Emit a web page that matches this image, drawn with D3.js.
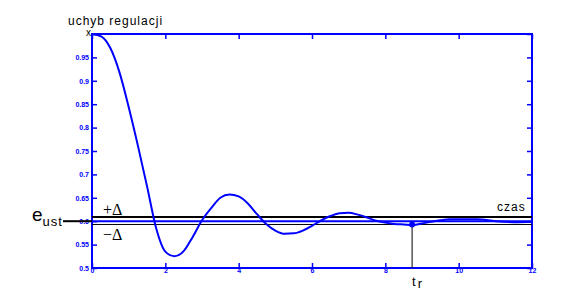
<!DOCTYPE html>
<html>
<head>
<meta charset="utf-8">
<script src="https://cdn.jsdelivr.net/npm/d3@7"></script>
<style>
  body { margin: 0; background: #fff; }
  svg { display: block; font-family: "Liberation Sans", Arial, sans-serif; }
  .tick text { fill: #0000ff; font-size: 7px; font-weight: bold; }
  .lbl { fill: #000; font-size: 12px; letter-spacing: 1px; }
  .sym { fill: #000; font-family: "Liberation Serif", "DejaVu Serif", serif; font-size: 16px; }
</style>
</head>
<body>
<svg id="chart"></svg>
<script>
// samples
const times = [0, 0.25, 0.5, 0.75, 1, 1.25, 1.5, 1.75, 2, 2.25, 2.5, 2.75, 3, 3.25, 3.5, 3.75,
  4, 4.25, 4.5, 4.75, 5, 5.25, 5.5, 5.75, 6, 6.25, 6.5, 6.75, 7, 7.25, 7.5, 7.75,
  8, 8.25, 8.5, 8.75, 9, 9.25, 9.5, 9.75, 10, 10.5, 11, 11.5, 12];
const errors = [1, 0.995, 0.97, 0.918, 0.844, 0.762, 0.675, 0.585, 0.535, 0.525, 0.536, 0.567,
  0.602, 0.628, 0.65, 0.657, 0.653, 0.638, 0.615, 0.594, 0.58, 0.573, 0.574, 0.58,
  0.59, 0.602, 0.611, 0.617, 0.618, 0.614, 0.608, 0.601, 0.597, 0.594, 0.593, 0.592,
  0.595, 0.599, 0.602, 0.604, 0.604, 0.604, 0.6, 0.598, 0.599];

const xTicks = [0, 2, 4, 6, 8, 10, 12];
const yTicks = [0.5, 0.55, 0.6, 0.65, 0.7, 0.75, 0.8, 0.85, 0.9, 0.95, 1];
const yTickLabels = ['0.5', '0.55', '0.6', '0.65', '0.7', '0.75', '0.8', '0.85', '0.9', '0.95', ''];

const eUst = 0.6, upper = 0.609, lower = 0.593;
const tr = 8.73;

const W = 579, H = 301;
const svg = d3.select('#chart').attr('width', W).attr('height', H);

const x = d3.scaleLinear().domain([0, 12]).range([92, 532]);
const y = d3.scaleLinear().domain([0.5, 1]).range([268, 34]);

const blue = '#0000ff';
const yFmt = d => yTickLabels[yTicks.indexOf(d)];

// axes, ticks pointing inward
function styleAxis(g) {
  g.select('.domain').remove();
  g.selectAll('.tick line').attr('stroke', blue).attr('stroke-width', 1.5);
}
svg.append('g').attr('transform', `translate(${x(0)},0)`)
  .call(d3.axisLeft(y).tickValues(yTicks).tickFormat(yFmt).tickSize(-5).tickPadding(3))
  .call(styleAxis).attr('font-family', null).attr('font-size', null);
svg.append('g').attr('transform', `translate(${x(12)},0)`)
  .call(d3.axisRight(y).tickValues(yTicks).tickFormat('').tickSize(-5))
  .call(styleAxis);
svg.append('g').attr('transform', `translate(0,${y(0.5)})`)
  .call(d3.axisBottom(x).tickValues(xTicks).tickFormat(d3.format('d')).tickSize(-5).tickPadding(0))
  .call(styleAxis).attr('font-family', null).attr('font-size', null);
svg.append('g').attr('transform', `translate(0,${y(1)})`)
  .call(d3.axisTop(x).tickValues(xTicks).tickFormat('').tickSize(-5))
  .call(styleAxis);

svg.append('rect')
  .attr('x', x(0)).attr('y', y(1))
  .attr('width', x(12) - x(0)).attr('height', y(0.5) - y(1))
  .attr('fill', 'none').attr('stroke', blue).attr('stroke-width', 2);

// tolerance band and steady value
svg.append('line').attr('x1', x(0)).attr('x2', x(12)).attr('y1', y(upper)).attr('y2', y(upper))
  .attr('stroke', '#000').attr('stroke-width', 2);
svg.append('line').attr('x1', x(0)).attr('x2', x(12)).attr('y1', y(lower)).attr('y2', y(lower))
  .attr('stroke', '#000').attr('stroke-width', 1);
svg.append('line').attr('x1', x(0)).attr('x2', x(12)).attr('y1', y(eUst)).attr('y2', y(eUst))
  .attr('stroke', blue).attr('stroke-width', 2);
svg.append('line').attr('x1', 63).attr('x2', x(0)).attr('y1', y(eUst)).attr('y2', y(eUst))
  .attr('stroke', '#000').attr('stroke-width', 2);

// error curve
const line = d3.line().x((d, i) => x(times[i])).y(d => y(d)).curve(d3.curveMonotoneX);
svg.append('path').datum(errors)
  .attr('d', line).attr('fill', 'none').attr('stroke', blue).attr('stroke-width', 2);

// settling time marker
svg.append('line').attr('x1', x(tr)).attr('x2', x(tr)).attr('y1', y(lower)).attr('y2', y(0.5))
  .attr('stroke', '#000').attr('stroke-width', 1);
svg.append('circle').attr('cx', x(tr)).attr('cy', y(lower)).attr('r', 3).attr('fill', blue);

// labels
svg.append('text').attr('class', 'lbl').attr('x', 68).attr('y', 25).text('uchyb regulacji');
svg.append('text').attr('x', 91).attr('y', 36).attr('text-anchor', 'end')
  .attr('font-size', 10).text('x');
svg.append('text').attr('class', 'lbl').attr('x', 497).attr('y', 211).text('czas');
svg.append('text').attr('class', 'sym').attr('x', 103).attr('y', 215).text('+Δ');
svg.append('text').attr('class', 'sym').attr('x', 103).attr('y', 240).text('−Δ');

const eLbl = svg.append('text').attr('x', 32).attr('y', 221).attr('fill', '#000');
eLbl.append('tspan').attr('font-size', 19).text('e');
eLbl.append('tspan').attr('font-size', 13).attr('dy', 5).attr('letter-spacing', 1).text('ust');

const tLbl = svg.append('text').attr('x', 412).attr('y', 286).attr('fill', '#000');
tLbl.append('tspan').attr('font-size', 13).text('t');
tLbl.append('tspan').attr('font-size', 13).attr('dx', 2).attr('dy', 2).text('r');
</script>
</body>
</html>
